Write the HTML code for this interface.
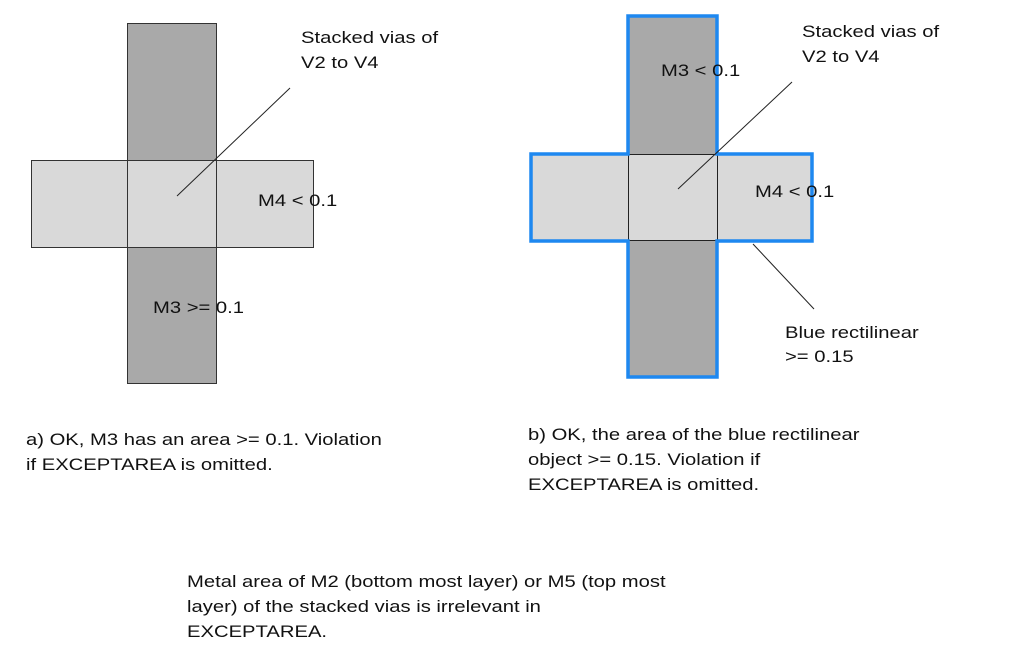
<!DOCTYPE html>
<html><head><style>
body{margin:0;background:#fff;}
svg{display:block;}
text{font-family:"Liberation Sans",Arial,sans-serif;font-size:17px;fill:#111;transform-box:fill-box;transform-origin:0 50%;transform:scaleX(1.19);}
</style></head><body>
<svg width="1013" height="668" viewBox="0 0 1013 668">
<!-- Left figure -->
<rect x="127.5" y="23.5" width="89" height="360" fill="#a9a9a9" stroke="#333" stroke-width="1"/>
<rect x="31.5" y="160.5" width="282" height="87" fill="#d9d9d9" stroke="#333" stroke-width="1"/>
<line x1="127.5" y1="160.5" x2="127.5" y2="247.5" stroke="#333"/>
<line x1="216.5" y1="160.5" x2="216.5" y2="247.5" stroke="#333"/>
<line x1="290" y1="88" x2="177" y2="196" stroke="#222" stroke-width="1"/>
<text x="301" y="43">Stacked vias of</text>
<text x="301" y="68">V2 to V4</text>
<text x="258" y="206">M4 &lt; 0.1</text>
<text x="153" y="313">M3 &gt;= 0.1</text>
<text x="26" y="445">a) OK, M3 has an area &gt;= 0.1. Violation</text>
<text x="26" y="470">if EXCEPTAREA is omitted.</text>

<!-- Right figure -->
<rect x="628" y="16" width="89" height="360" fill="#a9a9a9"/>
<rect x="531" y="154" width="281" height="87" fill="#d9d9d9"/>
<line x1="628.5" y1="154" x2="628.5" y2="241" stroke="#222"/>
<line x1="717.5" y1="16" x2="717.5" y2="241" stroke="#222"/>
<line x1="628" y1="154.5" x2="717" y2="154.5" stroke="#222"/>
<line x1="628" y1="240.5" x2="717" y2="240.5" stroke="#222"/>
<path d="M628,16 H717 V154 H812 V241 H717 V377 H628 V241 H531 V154 H628 Z" fill="none" stroke="#1e88f0" stroke-width="3.5"/>
<line x1="792" y1="82" x2="678" y2="189" stroke="#222" stroke-width="1"/>
<line x1="753" y1="244" x2="814" y2="309" stroke="#222" stroke-width="1"/>
<text x="802" y="37">Stacked vias of</text>
<text x="802" y="62">V2 to V4</text>
<text x="661" y="76">M3 &lt; 0.1</text>
<text x="755" y="197">M4 &lt; 0.1</text>
<text x="785" y="338">Blue rectilinear</text>
<text x="785" y="362">&gt;= 0.15</text>
<text x="528" y="440">b) OK, the area of the blue rectilinear</text>
<text x="528" y="465">object &gt;= 0.15. Violation if</text>
<text x="528" y="490">EXCEPTAREA is omitted.</text>

<text x="187" y="587">Metal area of M2 (bottom most layer) or M5 (top most</text>
<text x="187" y="612">layer) of the stacked vias is irrelevant in</text>
<text x="187" y="637">EXCEPTAREA.</text>
</svg>
</body></html>
